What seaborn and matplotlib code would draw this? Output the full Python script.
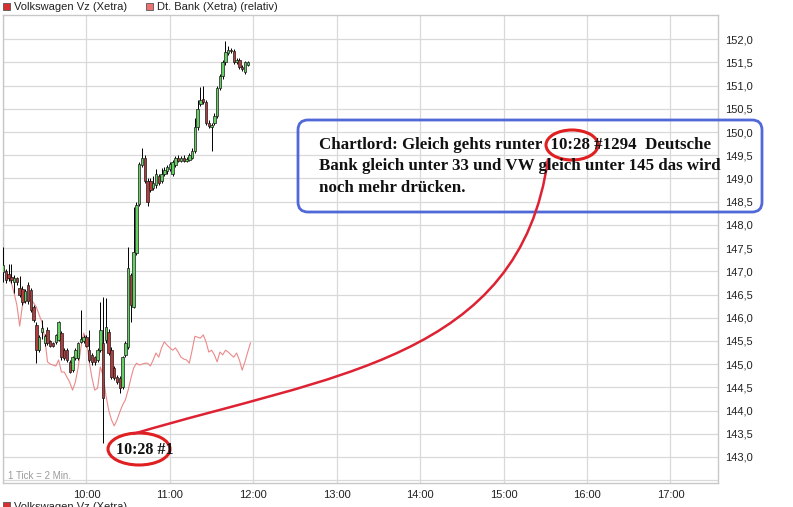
import numpy as np
import pandas as pd
import seaborn as sns
import matplotlib.pyplot as plt
from matplotlib.patches import Ellipse, FancyBboxPatch, PathPatch, Rectangle
from matplotlib.path import Path
from matplotlib.transforms import Affine2D
from matplotlib.ticker import FuncFormatter

# Volkswagen Vz (Xetra), 2-Minuten-Kerzen ab 9:00
opens = [146.98, 147.00, 146.95, 146.88, 146.77, 146.85, 146.65, 146.62, 146.37, 146.70,
         146.60, 146.23, 145.84, 145.30, 145.70, 145.45, 145.73, 145.50, 145.45, 145.48,
         145.53, 145.67, 145.30, 145.30, 145.04, 144.87, 145.13, 145.13, 145.48, 145.50,
         145.58, 145.30, 145.20, 145.15, 145.08, 145.30, 145.45, 145.52, 145.70, 145.30,
         144.91, 144.72, 144.70, 144.50, 145.20, 145.37, 146.92, 146.23, 147.40, 148.45,
         149.30, 149.45, 148.95, 148.95, 148.80, 148.85, 149.05, 148.95, 149.10, 149.15,
         149.20, 149.10, 149.30, 149.45, 149.38, 149.45, 149.38, 149.40, 149.45, 149.60,
         150.10, 150.60, 150.72, 150.65, 150.20, 150.10, 150.20, 150.35, 150.95, 151.20,
         151.50, 151.70, 151.76, 151.75, 151.50, 151.56, 151.40, 151.30, 151.45]
highs = [147.52, 147.05, 147.15, 147.15, 146.92, 146.88, 146.90, 146.68, 146.62, 146.76,
         146.64, 146.28, 145.90, 145.62, 145.96, 145.65, 145.80, 145.52, 145.48, 145.66,
         145.92, 145.72, 145.35, 145.34, 145.08, 145.18, 145.34, 145.48, 146.16, 145.62,
         145.62, 145.73, 145.24, 145.18, 145.34, 146.34, 146.45, 146.42, 145.75, 145.37,
         144.95, 144.76, 144.74, 145.18, 145.50, 147.52, 146.96, 148.38, 148.50, 149.35,
         149.65, 149.50, 149.00, 149.00, 149.05, 149.20, 149.10, 149.22, 149.25, 149.30,
         149.35, 149.40, 149.48, 149.50, 149.48, 149.50, 149.46, 149.55, 149.65, 150.30,
         150.70, 150.97, 151.00, 150.70, 150.25, 150.20, 150.40, 151.00, 151.25, 151.55,
         151.95, 151.85, 151.80, 151.78, 151.60, 151.60, 151.44, 151.54, 151.54]
lows = [146.77, 146.75, 146.80, 146.75, 146.53, 146.70, 146.45, 146.28, 146.32, 146.30,
        146.12, 145.90, 145.02, 145.26, 145.55, 145.40, 145.42, 145.36, 145.36, 145.44,
        145.50, 145.10, 145.08, 145.05, 144.80, 144.84, 145.10, 145.10, 145.45, 145.46,
        145.36, 145.05, 144.98, 144.99, 145.05, 145.26, 143.30, 145.45, 145.20, 144.68,
        144.66, 144.58, 144.38, 144.46, 145.16, 145.33, 145.90, 146.20, 147.35, 148.40,
        149.25, 148.90, 148.40, 148.70, 148.75, 148.80, 148.85, 148.90, 149.05, 149.10,
        149.15, 149.05, 149.25, 149.35, 149.35, 149.35, 149.35, 149.38, 149.42, 149.55,
        150.05, 150.55, 150.60, 150.15, 150.08, 149.60, 150.15, 150.30, 150.90, 151.15,
        151.45, 151.66, 151.70, 151.46, 151.46, 151.36, 151.32, 151.26, 151.42]
closes = [147.13, 146.81, 146.85, 146.82, 146.85, 146.77, 146.49, 146.33, 146.58, 146.35,
          146.17, 145.96, 145.30, 145.58, 145.78, 145.60, 145.46, 145.40, 145.40, 145.63,
          145.90, 145.15, 145.13, 145.10, 144.83, 145.15, 145.30, 145.45, 145.54, 145.58,
          145.40, 145.09, 145.04, 145.04, 145.30, 145.73, 144.27, 145.80, 145.24, 144.72,
          144.70, 144.62, 144.48, 145.15, 145.45, 147.07, 146.27, 147.41, 148.43, 149.30,
          149.45, 148.95, 148.50, 148.75, 148.90, 149.10, 148.90, 149.10, 149.18, 149.25,
          149.30, 149.35, 149.45, 149.38, 149.45, 149.38, 149.42, 149.50, 149.60, 150.10,
          150.50, 150.70, 150.65, 150.20, 150.12, 150.15, 150.35, 150.95, 151.20, 151.50,
          151.72, 151.76, 151.74, 151.50, 151.56, 151.40, 151.36, 151.50, 151.50]

# Dt. Bank (Xetra), relativ auf VW-Skala
dbank = [147.09, 146.98, 146.85, 146.75, 146.53, 146.27, 145.82, 146.27, 146.38, 146.38,
         146.38, 146.32, 146.23, 146.06, 145.91, 145.56, 145.05, 145.00, 144.98, 144.96,
         145.09, 144.83, 144.83, 144.72, 144.61, 144.44, 144.61, 144.92, 145.35, 145.67,
         145.56, 145.05, 144.70, 144.44, 144.48, 144.94, 144.76, 144.33, 144.01, 143.80,
         143.67, 143.80, 143.97, 144.12, 144.23, 144.44, 144.70, 144.92, 145.02, 144.98,
         145.00, 145.02, 145.02, 144.96, 145.09, 145.24, 145.15, 145.35, 145.48, 145.41,
         145.35, 145.30, 145.35, 145.26, 145.15, 145.11, 145.09, 145.02, 145.30, 145.60,
         145.58, 145.56, 145.63, 145.48, 145.26, 145.30, 145.20, 145.05, 145.26, 145.20,
         145.30, 145.26, 145.20, 145.15, 145.24, 145.09, 144.87, 145.05, 145.26, 145.46]

hour_ticks = [10, 11, 12, 13, 14, 15, 16, 17]
hour_labels = ["10:00", "11:00", "12:00", "13:00", "14:00", "15:00", "16:00", "17:00"]

sns.set_style("white")
plt.rcParams['font.family'] = ['Liberation Sans', 'DejaVu Sans']

W, H = 793, 507
fig = plt.figure(figsize=(W / 100, H / 100), dpi=100)
ax = fig.add_axes([3 / W, 1 - 483 / H, 715 / W, 468 / H])
px = Affine2D().scale(1 / W, -1 / H).translate(0, 1) + fig.transFigure

candles = pd.DataFrame({"open": opens, "high": highs, "low": lows, "close": closes})
candles["zeit"] = 9 + candles.index * 2 / 60
db = pd.DataFrame({"kurs": dbank})
db["zeit"] = 9 + db.index * 2 / 60

# Dt. Bank line
sns.lineplot(data=db, x="zeit", y="kurs", color="#eb8a8a", lw=0.8, ax=ax, zorder=2)

# candles
ax.vlines(candles["zeit"], candles["low"], candles["high"], color="black", lw=0.7, zorder=3)
up = candles["close"] >= candles["open"]
body_cols = np.where(up, "#62d062", "#b53c3c")
ax.bar(candles["zeit"], candles["close"] - candles["open"], bottom=candles["open"],
       width=0.029, color=body_cols, edgecolor="#1a1a1a", linewidth=0.5, zorder=4)

ax.set_xlim(9.0, 17.57)
ax.set_ylim(142.44, 152.52)
ax.set_xlabel("")
ax.set_ylabel("")
ax.set_xticks(hour_ticks)
ax.set_xticklabels(hour_labels)
ax.set_xticks([9], minor=True)
ax.set_yticks(np.arange(143.0, 152.01, 0.5))
ax.set_yticks([142.5], minor=True)
ax.yaxis.tick_right()
ax.yaxis.set_major_formatter(FuncFormatter(lambda v, p: f"{v:.1f}".replace(".", ",")))
ax.tick_params(axis="both", which="both", length=0, labelsize=8, colors="#222222")
ax.tick_params(axis="y", pad=5)
ax.tick_params(axis="x", pad=5)
ax.grid(True, which="both", color="#d9d9d9", lw=0.9)
ax.set_axisbelow(True)
for s in ax.spines.values():
    s.set_color("#c8c8c8")
    s.set_linewidth(1)

ax.text(5 / 715, 1 - (476 - 15) / 468, "1 Tick = 2 Min.", transform=ax.transAxes,
        fontsize=7, color="#9a9a9a", va="center", ha="left")

# legend (top)
fig.patches.append(Rectangle((3, 3), 7, 7, transform=px, fc="#d83030", ec="#555555", lw=0.6))
fig.text(14 / W, 1 - 7 / H, "Volkswagen Vz (Xetra)", fontsize=8, va="center", color="#222222")
fig.patches.append(Rectangle((146, 3), 7, 7, transform=px, fc="#ee7070", ec="#555555", lw=0.6))
fig.text(157 / W, 1 - 7 / H, "Dt. Bank (Xetra) (relativ)", fontsize=8, va="center", color="#222222")
# cut-off legend row at the bottom (as in the original screenshot)
fig.patches.append(Rectangle((3, 502), 7, 7, transform=px, fc="#d83030", ec="#555555", lw=0.6))
fig.text(14 / W, 1 - 502 / H, "Volkswagen Vz (Xetra)", fontsize=8, va="top", color="#222222")

# annotations
serif = ['Liberation Serif', 'DejaVu Serif']
fig.patches.append(FancyBboxPatch((306, 128), 448, 76, boxstyle="round,pad=8,rounding_size=10",
                                  transform=px, fill=False, ec="#5068d8", lw=2))
lines = ["Chartlord: Gleich gehts runter  10:28 #1294  Deutsche",
         "Bank gleich unter 33 und VW gleich unter 145 das wird",
         "noch mehr drücken."]
for k, ln in enumerate(lines):
    fig.text(319 / W, 1 - (145 + 21.5 * k) / H, ln, fontsize=12.15, fontweight="bold",
             family=serif, va="center", ha="left", color="#111111")
fig.text(116 / W, 1 - 450 / H, "10:28 #1", fontsize=11.5, fontweight="bold",
         family=serif, va="center", ha="left", color="#111111")
fig.patches.append(Ellipse((572, 145), 52, 30, transform=px, fill=False, ec="#e02020", lw=2.2))
fig.patches.append(Ellipse((139, 449), 62, 32, transform=px, fill=False, ec="#e02020", lw=2.2))
curve = Path([(133, 434), (330, 375), (520, 360), (548, 159)],
             [Path.MOVETO, Path.CURVE4, Path.CURVE4, Path.CURVE4])
fig.patches.append(PathPatch(curve, transform=px, fill=False, ec="#dd2233", lw=1.8))

fig.savefig("out.png", dpi=100)
